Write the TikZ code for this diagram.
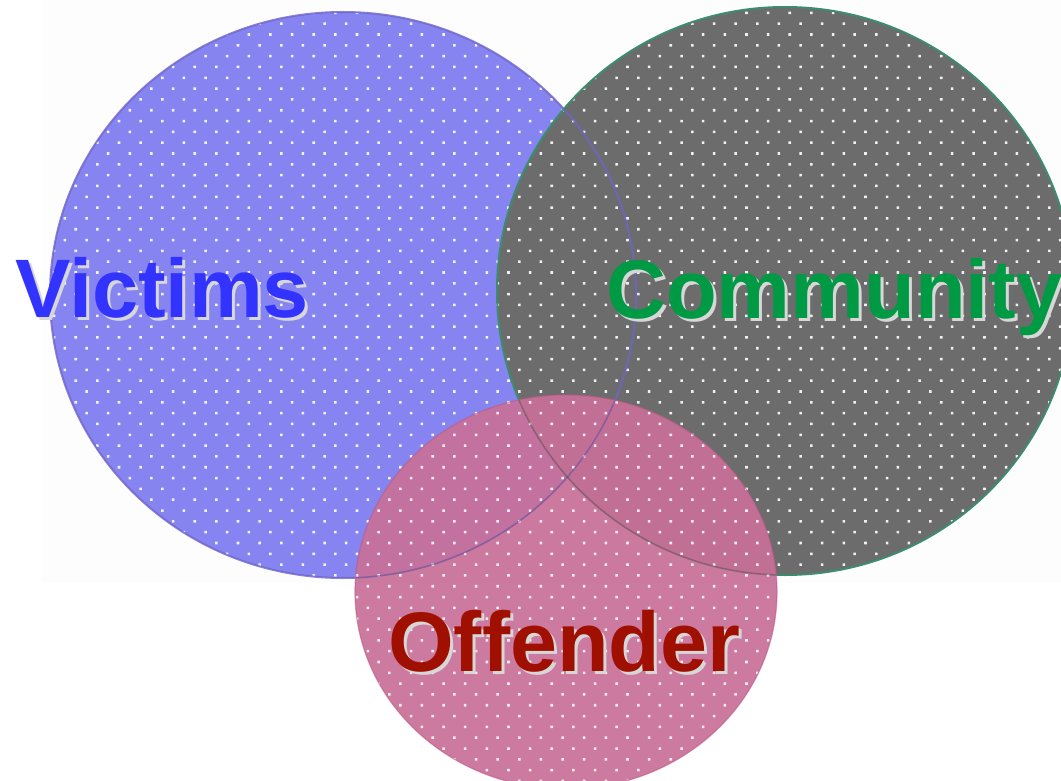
\documentclass[tikz,border=0pt]{standalone}
\usepackage{fontspec}
\setmainfont{Liberation Sans}
\usetikzlibrary{patterns.meta}
\definecolor{vicfill}{RGB}{134,132,240}
\definecolor{vicline}{RGB}{110,100,200}
\definecolor{comfill}{RGB}{108,108,108}
\definecolor{comline}{RGB}{60,140,110}
\definecolor{offfill}{RGB}{200,112,152}
\definecolor{offline}{RGB}{190,90,135}
\definecolor{victxt}{RGB}{51,51,255}
\definecolor{comtxt}{RGB}{0,153,68}
\definecolor{offtxt}{RGB}{160,16,0}
\definecolor{shadowgray}{RGB}{215,215,215}
\begin{document}
\begin{tikzpicture}[x=1pt,y=-1pt,
  dotpat/.style={pattern={Dots[distance=15.3pt,radius=1.8pt,angle=45]},pattern color=white},
  lbl/.style={font=\fontsize{83}{90}\selectfont\bfseries, inner sep=0pt, anchor=base west},
]
\useasboundingbox (0,0) rectangle (1061,781);
\fill[black!0.6] (42,0) rectangle (1061,583);
% Victims
\fill[vicfill] (343,295) ellipse [x radius=293, y radius=283];
\path[dotpat, fill opacity=0.9] (343,295) ellipse [x radius=293, y radius=283];
% Community
\fill[comfill] (785,291) ellipse [x radius=288, y radius=284];
\path[dotpat, fill opacity=0.9] (785,291) ellipse [x radius=288, y radius=284];
\draw[vicline, line width=2pt, opacity=0.8] (343,295) ellipse [x radius=293, y radius=283];
\draw[comline, line width=2pt] (785,291) ellipse [x radius=288, y radius=284];
% Offender
\fill[offfill, fill opacity=0.93] (566,592) ellipse [x radius=211, y radius=197];
\path[dotpat, fill opacity=0.85] (566,592) ellipse [x radius=211, y radius=197];
\begin{scope}
  \clip (566,592) ellipse [x radius=211, y radius=197];
  \draw[vicline!80!black, line width=1.5pt, opacity=0.55] (343,295) ellipse [x radius=293, y radius=283];
  \draw[black!70, line width=1.5pt, opacity=0.45] (785,291) ellipse [x radius=288, y radius=284];
\end{scope}
\draw[offline, line width=1.2pt, opacity=0.6] (566,592) ellipse [x radius=211, y radius=197];
% Labels
\node[lbl, text=shadowgray] (victimsshadow) at (18,320) {Victims};
\node[lbl, text=victxt] (victims) at (15,317) {Victims};
\node[lbl, text=shadowgray] (communityshadow) at (609,321) {Community};
\node[lbl, text=comtxt] (community) at (606,318) {Community};
\node[lbl, text=shadowgray, font=\fontsize{84.5}{90}\selectfont\bfseries] (offendershadow) at (391,674) {Offender};
\node[lbl, text=offtxt, font=\fontsize{84.5}{90}\selectfont\bfseries] (offender) at (388,671) {Offender};
\end{tikzpicture}
\end{document}
